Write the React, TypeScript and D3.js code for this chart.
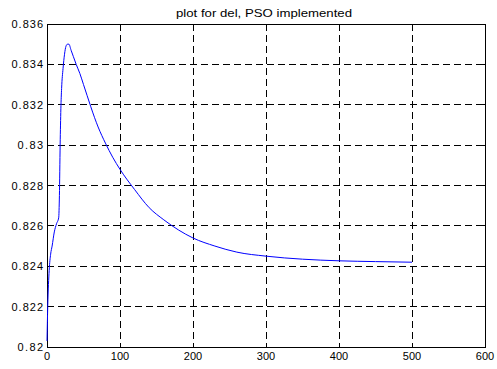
import React from "react";
import * as d3 from "d3";

const iterations = [0, 1, 3, 5, 7, 10, 13, 16, 17, 18, 19, 20, 22, 24, 26, 28, 30, 33, 36, 40, 45, 50, 55, 60, 70, 80, 90, 100, 120, 140, 160, 180, 200, 230, 260, 300, 350, 400, 450, 500];
const delValues = [0.8203, 0.8220, 0.8238, 0.8246, 0.8250, 0.8257, 0.8261, 0.8264, 0.8275, 0.8300, 0.8318, 0.8328, 0.8338, 0.8345, 0.8349, 0.8350, 0.8350, 0.8347, 0.8344, 0.8340, 0.83355, 0.8330, 0.83245, 0.8319, 0.8309, 0.8301, 0.8294, 0.8288, 0.8278, 0.8269, 0.8263, 0.8258, 0.8254, 0.8250, 0.8247, 0.8245, 0.82435, 0.82427, 0.82423, 0.8242];
const xTicks = [0, 100, 200, 300, 400, 500, 600];
const yTicks = [0.82, 0.822, 0.824, 0.826, 0.828, 0.83, 0.832, 0.834, 0.836];
const yTickLabels = ["0.82", "0.822", "0.824", "0.826", "0.828", "0.83", "0.832", "0.834", "0.836"];
const title = "plot for del, PSO implemented";

export default function App() {
  const W = 497, H = 369;
  const left = 47, right = 485, top = 24, bottom = 347;
  const x = d3.scaleLinear().domain([0, 600]).range([left, right]);
  const y = d3.scaleLinear().domain([0.82, 0.836]).range([bottom, top]);
  const pts = iterations.map((t, i) => [t, delValues[i]] as [number, number]);
  const line = d3.line<[number, number]>().x(d => x(d[0])).y(d => y(d[1])).curve(d3.curveMonotoneX);
  const font = "'Liberation Sans', Arial, sans-serif";
  const labelWidth = (s: string) => 11 * (0.556 * (s.length - 1) + 0.278) + 4;
  return (
    <svg width={W} height={H} style={{ position: "absolute", left: 0, top: 0, background: "#fff" }}>
      <rect x={0} y={0} width={W} height={H} fill="#fff" />
      {xTicks.slice(1, -1).map(t => (
        <line key={"gx" + t} x1={x(t)} x2={x(t)} y1={top} y2={bottom} stroke="#000" strokeWidth={1} strokeDasharray="7,4" shapeRendering="crispEdges" />
      ))}
      {yTicks.slice(1, -1).map(t => (
        <line key={"gy" + t} x1={left} x2={right} y1={y(t)} y2={y(t)} stroke="#000" strokeWidth={1} strokeDasharray="7,4" shapeRendering="crispEdges" />
      ))}
      {xTicks.map(t => (
        <g key={"tx" + t}>
          <line x1={x(t)} x2={x(t)} y1={bottom} y2={bottom - 4} stroke="#000" shapeRendering="crispEdges" />
          <line x1={x(t)} x2={x(t)} y1={top} y2={top + 4} stroke="#000" shapeRendering="crispEdges" />
          <text x={x(t)} y={360} textAnchor="middle" fontFamily={font} fontSize={11} fill="#000">{t}</text>
        </g>
      ))}
      {yTicks.map((t, i) => (
        <g key={"ty" + t}>
          <line x1={left} x2={left + 4} y1={y(t)} y2={y(t)} stroke="#000" shapeRendering="crispEdges" />
          <line x1={right} x2={right - 4} y1={y(t)} y2={y(t)} stroke="#000" shapeRendering="crispEdges" />
          <text x={43} y={y(t) + 4} textAnchor="end" fontFamily={font} fontSize={11} fill="#000"
            textLength={labelWidth(yTickLabels[i])} lengthAdjust="spacing">{yTickLabels[i]}</text>
        </g>
      ))}
      <rect x={left} y={top} width={right - left} height={bottom - top} fill="none" stroke="#000" strokeWidth={1} shapeRendering="crispEdges" />
      <path d={line(pts) || ""} fill="none" stroke="#0000ff" strokeWidth={1} />
      <text x={264} y={16.5} textAnchor="middle" fontFamily={font} fontSize={10.5} fill="#000"
        textLength={176} lengthAdjust="spacingAndGlyphs">{title}</text>
    </svg>
  );
}
